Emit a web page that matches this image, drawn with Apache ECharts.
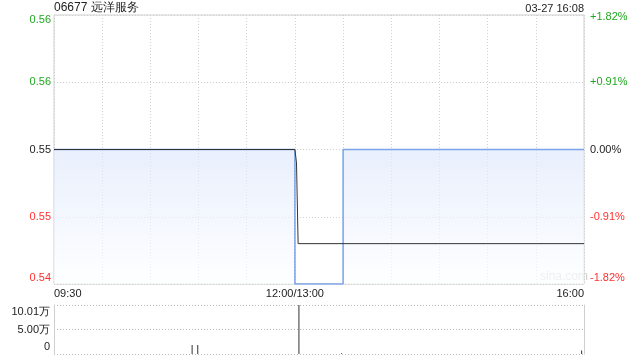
<!DOCTYPE html>
<html><head><meta charset="utf-8">
<script src="https://cdn.jsdelivr.net/npm/echarts@6/dist/echarts.min.js"></script>
<style>html,body{margin:0;padding:0;background:#fff}#c{width:640px;height:360px}</style>
</head><body><div id="c"></div>
<script>
const titleText = '06677 远洋服务';
const timeText = '03-27 16:08';
const watermarkText = 'sina.com';
const priceMin = 0.54, priceMax = 0.56, priceStep = 0.005;
const priceTickLabels = ['0.54', '0.55', '0.55', '0.56', '0.56'];
const pctTickLabels = ['-1.82%', '-0.91%', '0.00%', '+0.91%', '+1.82%'];
const timeTickMinutes = [0, 150, 330];
const timeTickLabels = ['09:30', '12:00/13:00', '16:00'];
const priceMinutes = [0, 150, 180, 330];
const priceValues = [0.55, 0.54, 0.55, 0.55];
const avgMinutes = [0, 150, 151, 152, 330];
const avgValues = [0.55, 0.55, 0.549, 0.543, 0.543];
const volMinutes = [86, 89.5, 152.5, 179, 328.5];
const volValues = [18500, 18500, 100100, 1500, 7000];
const volMax = 100100;
const volTickLabels = ['0', '5.00万', '10.01万'];

const GREEN = '#21a821', RED = '#ff3030', BLACK = '#222';
const FONT = 'Liberation Sans, Arial, sans-serif';
const tickIdx = v => Math.round((v - priceMin) / priceStep);
const styleKey = i => (i <= 1 ? 'r' : i === 2 ? 'k' : 'g');

const chart = echarts.init(document.getElementById('c'), null, {renderer: 'canvas'});
const richBase = (top, bot) => ({
  r: {color: RED, fontSize: 11, fontFamily: FONT},
  k: {color: BLACK, fontSize: 11, fontFamily: FONT},
  g: {color: GREEN, fontSize: 11, fontFamily: FONT},
  gt: {color: GREEN, fontSize: 11, fontFamily: FONT, padding: [top, 0, 0, 0]},
  rb: {color: RED, fontSize: 11, fontFamily: FONT, padding: [0, 0, bot, 0]}
});
function priceFmt(labels) {
  return v => {
    const i = tickIdx(v);
    let k = styleKey(i);
    if (i === 4) k = 'gt';
    if (i === 0) k = 'rb';
    return '{' + k + '|' + labels[i] + '}';
  };
}
const gridLine = {show: true, lineStyle: {color: '#d0d0d0', type: [1, 2], width: 1}};

chart.setOption({
  animation: false,
  textStyle: {fontFamily: FONT},
  graphic: [
    {type: 'text', left: 54, top: 2, style: {text: titleText, fill: '#222', font: '12px ' + FONT}},
    {type: 'text', right: 56, top: 3, style: {text: timeText, fill: '#222', font: '11px ' + FONT}},
    {type: 'text', left: 540, top: 271, style: {text: watermarkText, fill: '#cfcfcf', font: '12px ' + FONT}}
  ],
  grid: [
    {left: 54, right: 56, top: 15, height: 269, show: true, borderColor: '#cfcfcf', borderWidth: 1, backgroundColor: 'transparent'},
    {left: 54, right: 56, top: 305, height: 49}
  ],
  xAxis: [
    {type: 'value', gridIndex: 0, min: 0, max: 330, interval: 30,
     axisLine: {show: false}, axisTick: {show: false}, splitLine: gridLine,
     axisLabel: {show: true, margin: 4, color: '#222', fontSize: 11, showMinLabel: true, showMaxLabel: true,
       alignMinLabel: 'left', alignMaxLabel: 'right',
       formatter: v => { const i = timeTickMinutes.indexOf(Math.round(v)); return i >= 0 ? timeTickLabels[i] : ''; }}},
    {type: 'value', gridIndex: 1, min: 0, max: 330, interval: 30,
     axisLine: {show: false}, axisTick: {show: false}, splitLine: {show: false}, axisLabel: {show: false}}
  ],
  yAxis: [
    {type: 'value', gridIndex: 0, min: priceMin, max: priceMax, interval: priceStep, position: 'left',
     axisLine: {show: false}, axisTick: {show: false}, splitLine: gridLine,
     axisLabel: {margin: 3, formatter: priceFmt(priceTickLabels), rich: richBase(10, 12)}},
    {type: 'value', gridIndex: 0, min: priceMin, max: priceMax, interval: priceStep, position: 'right',
     axisLine: {show: false}, axisTick: {show: false}, splitLine: {show: false},
     axisLabel: {margin: 6, formatter: priceFmt(pctTickLabels), rich: richBase(4, 12)}},
    {type: 'value', gridIndex: 1, min: 0, max: volMax, interval: volMax / 2, position: 'left',
     axisLine: {show: true, lineStyle: {color: '#cfcfcf'}}, axisTick: {show: false},
     splitLine: {show: true, lineStyle: {color: '#bbbbbb', type: [1, 2], width: 1}},
     axisLabel: {margin: 4, color: '#222', fontSize: 11,
       formatter: v => { const i = Math.round(v / (volMax / 2)); const k = i === 2 ? 't' : i === 0 ? 'b' : 'm'; return '{' + k + '|' + volTickLabels[i] + '}'; },
       rich: {t: {fontSize: 11, color: '#222', padding: [14, 0, 0, 0]}, m: {fontSize: 11, color: '#222'}, b: {fontSize: 11, color: '#222', padding: [0, 0, 14, 0]}}}},
    {type: 'value', gridIndex: 1, min: 0, max: volMax, position: 'right',
     axisLine: {show: true, lineStyle: {color: '#cfcfcf'}}, axisTick: {show: false},
     splitLine: {show: false}, axisLabel: {show: false}}
  ],
  series: [
    {type: 'line', xAxisIndex: 0, yAxisIndex: 0, step: 'end', symbol: 'none',
     data: priceMinutes.map((m, i) => [m, priceValues[i]]),
     lineStyle: {color: '#79a3ea', width: 1.5},
     areaStyle: {origin: 'start', color: new echarts.graphic.LinearGradient(0, 0, 0, 1, [
       {offset: 0, color: '#dfe8fa'}, {offset: 1, color: '#fdfeff'}])}},
    {type: 'line', xAxisIndex: 0, yAxisIndex: 0, symbol: 'none',
     data: avgMinutes.map((m, i) => [m, avgValues[i]]),
     lineStyle: {color: '#333', width: 1}},
    {type: 'bar', xAxisIndex: 1, yAxisIndex: 2, barWidth: 1,
     data: volMinutes.map((m, i) => [m, volValues[i]]),
     itemStyle: {color: '#333'}}
  ]
});
</script></body></html>
